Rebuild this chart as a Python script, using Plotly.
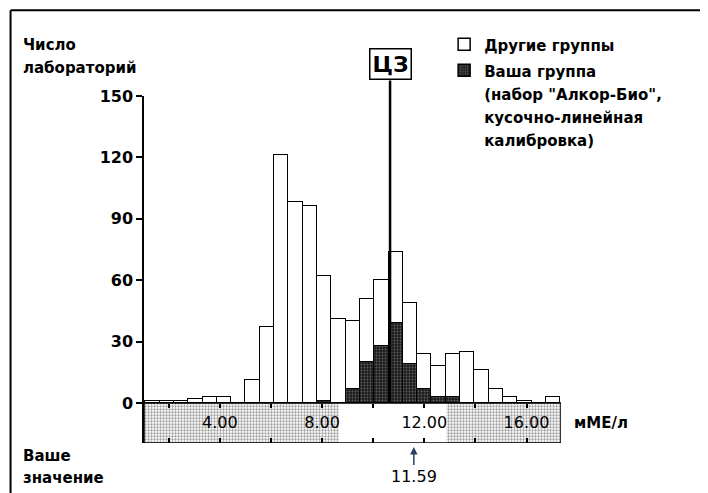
import plotly.graph_objects as go

# histogram bins (мМЕ/л), bin width 0.56
bin_centers = [1.36, 1.92, 2.48, 3.04, 3.60, 4.16, 4.72, 5.28, 5.84, 6.40,
               6.96, 7.52, 8.08, 8.64, 9.20, 9.76, 10.32, 10.88, 11.44, 12.00,
               12.56, 13.12, 13.68, 14.24, 14.80, 15.36, 15.92, 16.48, 17.04]
total_labs = [1, 1, 1, 2, 3, 3, 0, 11, 37, 121,
              98, 96, 62, 41, 40, 51, 60, 74, 49, 24,
              18, 24, 25, 16, 7, 3, 1, 0, 3]
your_group = [0, 0, 0, 0, 0, 0, 0, 0, 0, 0,
              0, 0, 1, 0, 7, 20, 28, 39, 19, 7,
              3, 3, 0, 0, 0, 0, 0, 0, 0]
other_groups = [t - g for t, g in zip(total_labs, your_group)]
bin_width = 0.56

target_value = 10.66      # ЦЗ
your_value = 11.59
range_low, range_high = 8.65, 12.87

x_range = [1.03, 17.35]
y_range = [-19.6, 150]
y_ticks = [0, 30, 60, 90, 120, 150]
x_ticks = [2, 4, 6, 8, 10, 12, 14, 16]
x_ticktext = ['', '4.00', '', '8.00', '', '12.00', '', '16.00']

bold = dict(family='DejaVu Sans', size=15, color='black', weight='bold')
y0_paper = -y_range[0] / (y_range[1] - y_range[0])


def leg(txt):
    # smaller glyphs inside a bigger line height, as in the original
    return '<br>'.join('<span style="font-size:15px">%s</span>' % s for s in txt.split('\n'))


fig = go.Figure()
fig.add_trace(go.Bar(x=bin_centers, y=your_group, width=bin_width,
                     name=leg('Ваша группа\n(набор "Алкор-Био",\nкусочно-линейная\nкалибровка)'),
                     marker=dict(color='#1c1c1c', line=dict(color='black', width=1.5),
                                 pattern=dict(shape='.', fgcolor='#a0a0a0', size=3, solidity=0.3)),
                     legendrank=2))
fig.add_trace(go.Bar(x=bin_centers, y=other_groups, width=bin_width, name=leg('Другие группы'),
                     marker=dict(color='white', line=dict(color='black', width=1.5)),
                     legendrank=1))

# stippled strip under the axis (white window = acceptable range)
fig.add_trace(go.Scatter(
    x=[x_range[0], range_low, range_low, x_range[0], x_range[0], None,
       range_high, x_range[1], x_range[1], range_high, range_high],
    y=[y_range[0], y_range[0], 0, 0, y_range[0], None,
       y_range[0], y_range[0], 0, 0, y_range[0]],
    xaxis='x2', mode='lines', line=dict(width=0), fill='toself', fillcolor='white',
    fillpattern=dict(shape='.', fgcolor='#3a3a3a', bgcolor='white', size=3, solidity=0.45),
    showlegend=False, hoverinfo='skip'))

fig.add_shape(type='rect', xref='x', yref='y', x0=x_range[0], x1=x_range[1],
              y0=y_range[0], y1=0, line=dict(color='black', width=1.5), layer='above')
fig.add_shape(type='line', xref='x', yref='paper', x0=target_value, x1=target_value,
              y0=y0_paper, y1=1.045, line=dict(color='black', width=2.5))

# outer frame (top and left)
fig.add_shape(type='line', xref='paper', yref='paper', x0=-0.32, x1=1.4, y0=1.247, y1=1.247,
              line=dict(color='black', width=2))
fig.add_shape(type='line', xref='paper', yref='paper', x0=-0.32, x1=-0.32, y0=1.247, y1=-0.2,
              line=dict(color='black', width=2))

fig.add_annotation(x=target_value, y=1.045, xref='x', yref='paper', yanchor='bottom',
                   text='ЦЗ', showarrow=False, bgcolor='white', bordercolor='black',
                   borderwidth=1.5, borderpad=2,
                   font=dict(family='DejaVu Sans', size=22, color='black', weight='bold'))
fig.add_annotation(x=your_value, y=y_range[0], xref='x', yref='y', text='11.59',
                   showarrow=True, ax=0, ay=33, arrowhead=2, arrowsize=1, arrowwidth=1.5,
                   standoff=4, font=dict(family='DejaVu Sans', size=16, color='black'))
labels = [('Число', -0.296, 1.146), ('лабораторий', -0.296, 1.080),
          ('Ваше', -0.296, -0.038), ('значение', -0.296, -0.102),
          ('мМЕ/л', 1.026, 0.057)]
for txt, lx, ly in labels:
    fig.add_annotation(x=lx, y=ly, xref='paper', yref='paper', text=txt, showarrow=False,
                       xanchor='left', yanchor='middle', font=bold)

fig.update_layout(
    width=708, height=493,
    margin=dict(l=136, r=155, t=88, b=58, autoexpand=False),
    barmode='stack', bargap=0,
    plot_bgcolor='white', paper_bgcolor='white',
    showlegend=True,
    legend=dict(xref='container', yref='container', x=0.616, y=0.963,
                xanchor='left', yanchor='top', valign='top', traceorder='normal',
                font=dict(family='DejaVu Sans', size=17.7, color='black', weight='bold'),
                bgcolor='rgba(0,0,0,0)', tracegroupgap=0),
    xaxis=dict(range=x_range, tickvals=x_ticks, ticktext=x_ticktext, ticks='inside',
               ticklen=5, tickwidth=1.5, tickcolor='black', ticklabelposition='inside',
               ticklabelstandoff=7,
               tickfont=dict(family='DejaVu Sans', size=16, color='black'),
               showgrid=False, zeroline=False, showline=False, automargin=False),
    xaxis2=dict(range=x_range, overlaying='x', anchor='free', position=y0_paper, side='top',
                tickvals=x_ticks, ticks='inside', ticklen=4, tickwidth=1.5, tickcolor='black',
                showticklabels=False, showgrid=False, zeroline=False, showline=False),
    yaxis=dict(range=y_range, tickvals=y_ticks, ticks='outside', ticklen=6, tickwidth=1.5,
               tickcolor='black', showline=True, linecolor='black', linewidth=1.5,
               showgrid=False, zeroline=False, automargin=False,
               tickfont=dict(family='DejaVu Sans', size=16, color='black', weight='bold')),
)

fig.write_html("out.html")
